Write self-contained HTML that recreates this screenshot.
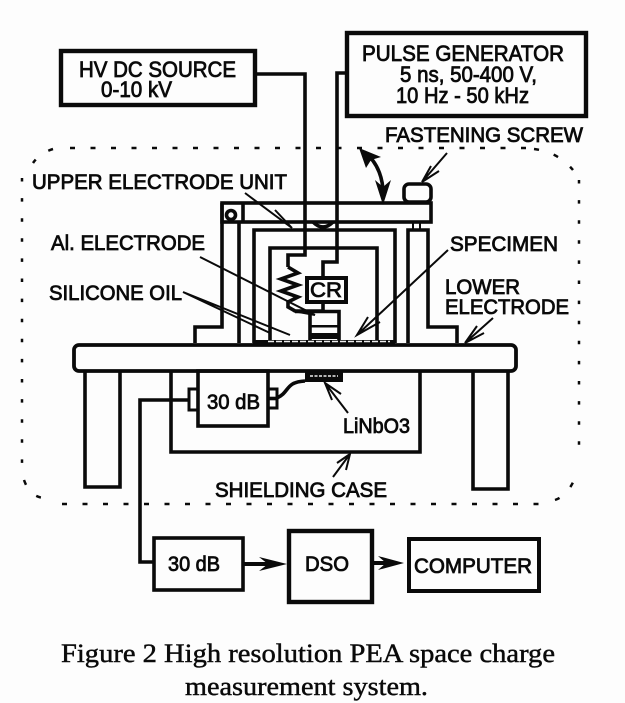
<!DOCTYPE html>
<html><head><meta charset="utf-8"><style>
html,body{margin:0;padding:0;background:#fdfdfd;width:625px;height:703px;overflow:hidden}
svg{display:block}
text{font-family:"Liberation Sans",sans-serif;fill:#0a0a0a;stroke:#0a0a0a;stroke-width:.8}
.c{font-family:"Liberation Serif",serif;stroke-width:.45;font-size:26px}
.l{fill:none;stroke:#0a0a0a;stroke-width:3.6;stroke-linejoin:miter}
.t{fill:none;stroke:#0a0a0a;stroke-width:2}
.d{fill:none;stroke:#0a0a0a;stroke-width:2.5;stroke-dasharray:5 15.5}
.v{fill:none;stroke:#0a0a0a;stroke-width:2.5;stroke-dasharray:3.5 16.6}
</style></head><body>
<svg xmlns="http://www.w3.org/2000/svg" width="625" height="703" viewBox="0 0 625 703">
<!-- dashed enclosure -->
<path class="d" d="M70 148H535"/>
<path class="d" d="M62 504H540"/>
<path class="v" d="M22 178V470"/>
<path class="v" d="M579 180V455"/>
<path class="d" d="M53 149Q40 153 33 163"/>
<path class="d" d="M534 149Q558 152 573 170"/>
<path class="d" d="M24 480Q30 497 44 498"/>
<path class="d" d="M555 500Q570 495 578 470"/>

<!-- top boxes -->
<rect x="61" y="51" width="194" height="54" class="l" style="stroke-width:4.400"/>
<rect x="347" y="33" width="239" height="83" class="l" style="stroke-width:4.400"/>
<path class="l" d="M256 74H305V255H288V267"/>
<path class="l" d="M347 73H337V262H323V277"/>

<!-- upper electrode unit -->
<rect x="222" y="203" width="209" height="19" class="l"/>
<path class="l" d="M243 203V222"/>
<circle cx="231" cy="215" r="4.500" class="l"/>
<path class="l" d="M222 203V327H195V343"/>
<path class="l" d="M239 222V343"/>
<rect x="404" y="184" width="27" height="18" rx="5" class="l"/>
<path class="l" d="M313 222Q323 232 333 222"/>
<path class="l" d="M254 343V230H395V343"/>
<path class="l" d="M270 343V248H377V343"/>
<path class="l" d="M408 343V230H428V327H457V343"/>
<path class="l" style="stroke-width:2" d="M413 222V230M420 222V230"/>
<!-- spring / CR -->
<path class="l" d="M288 267L298 273L281 279L298 285L281 291L298 297L288 302V307L295 311H323"/>
<rect x="307" y="278" width="39" height="24" class="l" style="stroke-width:4"/>
<path class="l" d="M323 302V311"/>
<path class="l" d="M295 311.500H339V340M310 311.500V340"/>
<rect x="310" y="325" width="29" height="2.500" fill="#0a0a0a"/>
<rect x="310" y="333" width="29" height="6" fill="#0a0a0a"/>
<rect x="253" y="340" width="142" height="5" fill="#0a0a0a"/>
<path d="M268 341.500H390" style="stroke:#eee;stroke-width:1.500;stroke-dasharray:6 2;fill:none"/>

<!-- base plate and legs -->
<rect x="74" y="345" width="442" height="26" rx="5" class="l" style="stroke-width:3.800"/>
<path class="l" d="M85 371V487H120V371"/>
<path class="l" d="M473 371V489H508V371"/>
<path class="l" d="M171 371V452H420V371"/>
<rect x="198" y="371" width="70" height="55" class="l"/>
<rect x="189" y="389" width="9" height="21" class="l" style="stroke-width:3"/>
<rect x="268" y="389" width="9" height="19" class="l" style="stroke-width:3"/>
<path class="l" d="M268 398.500H277"/>
<path class="l" d="M277 398C290 392 285 382 305 381"/>
<rect x="305" y="372" width="38" height="10" fill="#0a0a0a"/>
<path d="M310 376L338 376" style="stroke:#eee;stroke-width:1.500;stroke-dasharray:3 1.500;fill:none"/>
<path class="l" d="M189 400H140V562H154"/>

<!-- bottom boxes -->
<rect x="154" y="538" width="89" height="52" class="l"/>
<rect x="289" y="531" width="83" height="71" class="l" style="stroke-width:4.400"/>
<rect x="409" y="539" width="130" height="52" class="l" style="stroke-width:4"/>
<path class="l" style="stroke-width:4" d="M243 564H275"/>
<path fill="#0a0a0a" d="M287 564L259 557L268 564L259 571Z"/>
<path class="l" style="stroke-width:4" d="M372 563H392"/>
<path fill="#0a0a0a" d="M404 563L378 556L386 563L378 570Z"/>

<!-- pointers -->
<path class="t" d="M245 193L292 228M275 210L292 228L280 219"/>
<path class="t" d="M200 257L315 315M293 311L315 315"/>
<path class="t" d="M183 292L290 335M183 292L270 333"/>
<path class="t" d="M448 250L357 335M368 317L357 335L380 322"/>
<path class="t" d="M493 318L465 343M477 326L465 343L484 333"/>
<path class="t" d="M447 153L422 182M431 166L422 182L439 171"/>
<path class="t" d="M348 413L325 383M332 400L325 383L341 394"/>
<path class="t" d="M333 477L350 454M337 463L350 454L346 470"/>
<path class="l" d="M364 152C378 162 384 180 383 198"/>
<path fill="#0a0a0a" d="M359 148L381 157L371 160L366 168Z"/>
<path fill="#0a0a0a" d="M383 205L375 180L383 187L391 180Z"/>

<!-- labels -->
<text x="79" y="77" font-size="22" textLength="157" lengthAdjust="spacingAndGlyphs">HV DC SOURCE</text>
<text x="101" y="97" font-size="22" textLength="71" lengthAdjust="spacingAndGlyphs">0-10 kV</text>
<text x="362" y="61" font-size="22" textLength="202" lengthAdjust="spacingAndGlyphs">PULSE GENERATOR</text>
<text x="400" y="82" font-size="22" textLength="137" lengthAdjust="spacingAndGlyphs">5 ns, 50-400 V,</text>
<text x="396" y="103" font-size="22" textLength="133" lengthAdjust="spacingAndGlyphs">10 Hz - 50 kHz</text>
<text x="385" y="142" font-size="21" textLength="198" lengthAdjust="spacingAndGlyphs">FASTENING SCREW</text>
<text x="32" y="189" font-size="21" textLength="255" lengthAdjust="spacingAndGlyphs">UPPER ELECTRODE UNIT</text>
<text x="51" y="250" font-size="21" textLength="154" lengthAdjust="spacingAndGlyphs">Al. ELECTRODE</text>
<text x="49" y="300" font-size="21" textLength="133" lengthAdjust="spacingAndGlyphs">SILICONE OIL</text>
<text x="450" y="251" font-size="21" textLength="108" lengthAdjust="spacingAndGlyphs">SPECIMEN</text>
<text x="445" y="294" font-size="21" textLength="75" lengthAdjust="spacingAndGlyphs">LOWER</text>
<text x="445" y="314" font-size="21" textLength="124" lengthAdjust="spacingAndGlyphs">ELECTRODE</text>
<text x="310" y="297" font-size="21" textLength="32" lengthAdjust="spacingAndGlyphs">CR</text>
<text x="207" y="409" font-size="21" textLength="53" lengthAdjust="spacingAndGlyphs">30 dB</text>
<text x="343" y="433" font-size="21" textLength="67" lengthAdjust="spacingAndGlyphs">LiNbO3</text>
<text x="215" y="497" font-size="21" textLength="172" lengthAdjust="spacingAndGlyphs">SHIELDING CASE</text>
<text x="168" y="571" font-size="21" textLength="52" lengthAdjust="spacingAndGlyphs">30 dB</text>
<text x="305" y="571" font-size="21" textLength="44" lengthAdjust="spacingAndGlyphs">DSO</text>
<text x="414" y="573" font-size="21" textLength="118" lengthAdjust="spacingAndGlyphs">COMPUTER</text>
<text class="c" x="61" y="662" textLength="494" lengthAdjust="spacingAndGlyphs">Figure 2 High resolution PEA space charge</text>
<text class="c" x="185" y="695" textLength="243" lengthAdjust="spacingAndGlyphs">measurement system.</text>
</svg>
</body></html>
